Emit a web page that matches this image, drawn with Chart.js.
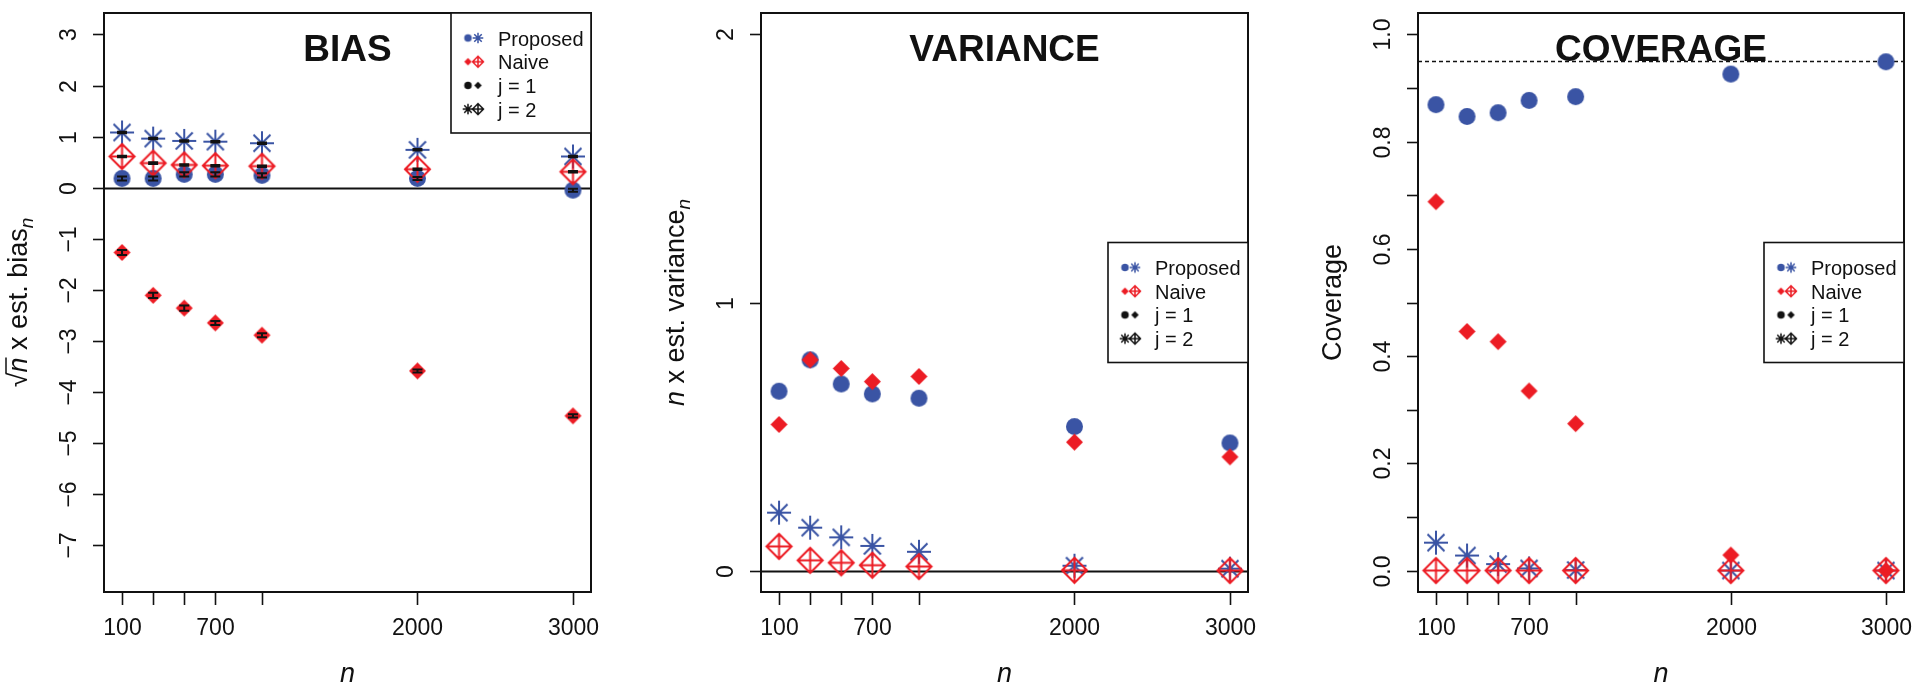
<!DOCTYPE html>
<html>
<head>
<meta charset="utf-8">
<script src="https://cdn.jsdelivr.net/npm/chart.js@4.4.1/dist/chart.umd.min.js"></script>
<style>
  html, body { margin: 0; padding: 0; background: #fff; }
  #wrap { position: relative; width: 1920px; height: 689px; overflow: hidden; }
  #wrap canvas { position: absolute; top: 0; }
</style>
</head>
<body>
<div id="wrap">
  <canvas id="bias" width="640" height="689" style="left:0"></canvas>
  <canvas id="variance" width="640" height="689" style="left:640px"></canvas>
  <canvas id="coverage" width="640" height="689" style="left:1280px"></canvas>
</div>
<script>
// ── Data ─────────────────────────────────────────────────

const nValues      = [100, 300, 500, 700, 1000, 2000, 3000];
const xTickLabels  = ['100', '', '', '700', '', '2000', '3000'];

const biasYTicks   = [-7, -6, -5, -4, -3, -2, -1, 0, 1, 2, 3];
const biasPropJ1   = [0.18, 0.18, 0.26, 0.26, 0.24, 0.18, -0.05];
const biasPropJ2   = [1.08, 0.96, 0.915, 0.90, 0.87, 0.74, 0.61];
const biasNaiveJ1  = [-1.27, -2.11, -2.36, -2.65, -2.89, -3.59, -4.47];
const biasNaiveJ2  = [0.61, 0.48, 0.445, 0.43, 0.42, 0.36, 0.31];
// half widths of the error bars
const biasPropJ1Err  = [0.04, 0.04, 0.04, 0.04, 0.04, 0.03, 0.03];
const biasPropJ2Err  = [0.015, 0.015, 0.015, 0.015, 0.015, 0.015, 0.015];
const biasNaiveJ1Err = [0.05, 0.05, 0.05, 0.04, 0.04, 0.03, 0.03];
const biasNaiveJ2Err = [0.015, 0.015, 0.015, 0.015, 0.015, 0.015, 0.015];

const varYTicks    = [0, 1, 2];
const varPropJ1    = [0.669, 0.786, 0.696, 0.659, 0.643, 0.537, 0.476];
const varPropJ2    = [0.216, 0.160, 0.124, 0.092, 0.070, 0.018, 0.007];
const varNaiveJ1   = [0.545, 0.786, 0.754, 0.705, 0.724, 0.479, 0.424];
const varNaiveJ2   = [0.090, 0.038, 0.029, 0.020, 0.015, 0.001, 0.0];

const covYTicks      = [0, 0.1, 0.2, 0.3, 0.4, 0.5, 0.6, 0.7, 0.8, 0.9, 1.0];
const covYTickLabels = ['0.0', '', '0.2', '', '0.4', '', '0.6', '', '0.8', '', '1.0'];
const covPropJ1    = [0.869, 0.847, 0.854, 0.877, 0.884, 0.926, 0.949];
const covPropJ2    = [0.052, 0.028, 0.012, 0.004, 0.001, 0.0, 0.0];
const covNaiveJ1   = [0.688, 0.446, 0.427, 0.335, 0.274, 0.029, 0.0];
const covNaiveJ2   = [0, 0, 0, 0, 0, 0, 0];
const coverageTarget = 0.95;

const legendNames  = ['Proposed', 'Naive', 'j = 1', 'j = 2'];

// ── Style ────────────────────────────────────────────────

const FONT  = '"Liberation Sans", Arial, Helvetica, sans-serif';
const BLUE  = '#3a54a4';
const RED   = '#ec1c24';
const BLACK = '#111';

function makeMarker(kind, color, r, lw) {
  const s = Math.ceil(2 * r + 2 * lw + 2);
  const c = document.createElement('canvas');
  c.width = s; c.height = s;
  const g = c.getContext('2d');
  const m = s / 2;
  g.strokeStyle = color; g.fillStyle = color; g.lineWidth = lw;
  g.beginPath();
  if (kind === 'dot') {
    g.arc(m, m, r, 0, Math.PI * 2);
    g.fill();
  } else if (kind === 'diamond') {
    g.moveTo(m - r, m); g.lineTo(m, m - r); g.lineTo(m + r, m); g.lineTo(m, m + r);
    g.closePath(); g.fill();
  } else if (kind === 'star') {
    const d = r * Math.SQRT1_2;
    g.moveTo(m - r, m); g.lineTo(m + r, m);
    g.moveTo(m, m - r); g.lineTo(m, m + r);
    g.moveTo(m - d, m - d); g.lineTo(m + d, m + d);
    g.moveTo(m - d, m + d); g.lineTo(m + d, m - d);
    g.stroke();
  } else if (kind === 'diamondPlus') {
    g.moveTo(m - r, m); g.lineTo(m, m - r); g.lineTo(m + r, m); g.lineTo(m, m + r);
    g.closePath();
    g.moveTo(m - r, m); g.lineTo(m + r, m);
    g.moveTo(m, m - r); g.lineTo(m, m + r);
    g.stroke();
  }
  return c;
}

const SIZES = { dot: 8.5, diamond: 8.5, star: 12, diamondPlus: 12.5 };
const plotMarker = (kind, color) => makeMarker(kind, color, SIZES[kind], 2);
const legMarker  = (kind, color) => makeMarker(kind, color, SIZES[kind] * 0.44, 1.5);

const legendRows = [
  [legMarker('dot', BLUE), legMarker('star', BLUE)],
  [legMarker('diamond', RED), legMarker('diamondPlus', RED)],
  [legMarker('dot', BLACK), legMarker('diamond', BLACK)],
  [legMarker('star', BLACK), legMarker('diamondPlus', BLACK)]
];

// ── Frame plugin (R-style box, ticks, labels, legend) ────

function drawParts(ctx, parts, x, y, rotate) {
  ctx.save();
  ctx.translate(x, y);
  if (rotate) ctx.rotate(-Math.PI / 2);
  let total = 0;
  parts.forEach(p => { ctx.font = p.font; p.w = ctx.measureText(p.text).width; total += p.w; });
  let cx = -total / 2;
  ctx.textAlign = 'left';
  ctx.textBaseline = 'alphabetic';
  parts.forEach(p => {
    ctx.font = p.font;
    ctx.fillText(p.text, cx, p.dy || 0);
    if (p.overline) {
      ctx.lineWidth = 1.5;
      ctx.beginPath(); ctx.moveTo(cx - 1, -p.overline); ctx.lineTo(cx + p.w, -p.overline); ctx.stroke();
    }
    cx += p.w;
  });
  ctx.restore();
}

function framePlugin(cfg) {
  return {
    id: 'frame_' + cfg.key,
    beforeDatasetsDraw(chart) {
      const { ctx, chartArea: a, scales: { y } } = chart;
      ctx.save();
      ctx.beginPath(); ctx.rect(a.left, a.top, a.right - a.left, a.bottom - a.top); ctx.clip();
      ctx.strokeStyle = BLACK;
      (cfg.hlines || []).forEach(h => {
        const py = Math.round(y.getPixelForValue(h.value)) + 0.5;
        ctx.lineWidth = h.width;
        ctx.setLineDash(h.dash || []);
        ctx.beginPath(); ctx.moveTo(a.left, py); ctx.lineTo(a.right, py); ctx.stroke();
      });
      ctx.restore();
    },
    afterDatasetsDraw(chart) {
      const { ctx, scales: { x, y } } = chart;
      ctx.save();
      ctx.strokeStyle = BLACK;
      ctx.lineWidth = 2;
      (cfg.errorBars || []).forEach(eb => {
        nValues.forEach((n, i) => {
          const px = x.getPixelForValue(n);
          const lo = y.getPixelForValue(eb.values[i] - eb.err[i]);
          const hi = y.getPixelForValue(eb.values[i] + eb.err[i]);
          ctx.beginPath();
          ctx.moveTo(px, lo); ctx.lineTo(px, hi);
          ctx.moveTo(px - 5, lo); ctx.lineTo(px + 5, lo);
          ctx.moveTo(px - 5, hi); ctx.lineTo(px + 5, hi);
          ctx.stroke();
        });
      });
      ctx.restore();
    },
    afterDraw(chart) {
      const { ctx, chartArea: a, scales: { x, y } } = chart;
      ctx.save();
      ctx.strokeStyle = BLACK;
      ctx.fillStyle = BLACK;

      // box
      ctx.lineWidth = 2;
      ctx.strokeRect(a.left, a.top, a.right - a.left, a.bottom - a.top);

      // x ticks + labels
      ctx.lineWidth = 1.6;
      ctx.font = '23px ' + FONT;
      ctx.textAlign = 'center';
      ctx.textBaseline = 'alphabetic';
      nValues.forEach((n, i) => {
        const px = Math.round(x.getPixelForValue(n)) + 0.5;
        ctx.beginPath(); ctx.moveTo(px, a.bottom); ctx.lineTo(px, a.bottom + 13); ctx.stroke();
        if (xTickLabels[i]) ctx.fillText(xTickLabels[i], px, a.bottom + 43);
      });

      // y ticks + rotated labels
      cfg.yTicks.forEach((v, i) => {
        const py = Math.round(y.getPixelForValue(v)) + 0.5;
        ctx.beginPath(); ctx.moveTo(a.left - 11, py); ctx.lineTo(a.left, py); ctx.stroke();
        const lab = cfg.yTickLabels[i];
        if (lab) {
          ctx.save();
          ctx.translate(a.left - 28, py);
          ctx.rotate(-Math.PI / 2);
          ctx.fillText(lab, 0, 0);
          ctx.restore();
        }
      });

      // axis titles
      const reg = '27px ' + FONT, ita = 'italic 27px ' + FONT, sub = 'italic 19px ' + FONT;
      drawParts(ctx, [{ text: 'n', font: ita }], (a.left + a.right) / 2, a.bottom + 90, false);
      drawParts(ctx, cfg.yTitle(reg, ita, sub), a.left - 77, (a.top + a.bottom) / 2, true);

      // panel title
      ctx.font = 'bold 37px ' + FONT;
      ctx.textAlign = 'center';
      ctx.fillText(cfg.title, (a.left + a.right) / 2, a.top + 48);

      // legend
      const lw = 140, lh = 120;
      const lx = a.right - lw;
      const ly = cfg.legendPos === 'topright' ? a.top : (a.top + a.bottom) / 2 - lh / 2;
      ctx.fillStyle = '#fff';
      ctx.fillRect(lx, ly, lw, lh);
      ctx.lineWidth = 1.6;
      ctx.strokeRect(lx, ly, lw, lh);
      ctx.font = '20px ' + FONT;
      ctx.textAlign = 'left';
      ctx.fillStyle = BLACK;
      legendNames.forEach((name, i) => {
        const ry = ly + 25 + i * 23.7;
        const [m1, m2] = legendRows[i];
        ctx.drawImage(m1, lx + 17 - m1.width / 2, ry - m1.height / 2);
        ctx.drawImage(m2, lx + 27 - m2.width / 2, ry - m2.height / 2);
        ctx.fillText(name, lx + 47, ry + 7.5);
      });
      ctx.restore();
    }
  };
}

// ── Charts ───────────────────────────────────────────────

function series(values, marker, order) {
  return {
    data: nValues.map((n, i) => ({ x: n, y: values[i] })),
    pointStyle: marker,
    pointRadius: 12,
    pointHoverRadius: 12,
    showLine: false,
    order: order,
    clip: false
  };
}

function makePanel(id, cfg) {
  return new Chart(document.getElementById(id), {
    type: 'scatter',
    data: {
      datasets: [
        series(cfg.propJ1, plotMarker('dot', BLUE), 3),
        series(cfg.propJ2, plotMarker('star', BLUE), 2),
        series(cfg.naiveJ1, plotMarker('diamond', RED), 1),
        series(cfg.naiveJ2, plotMarker('diamondPlus', RED), 0)
      ]
    },
    options: {
      responsive: false,
      animation: false,
      events: [],
      layout: { padding: cfg.pad },
      scales: {
        x: { type: 'linear', display: false, min: -16, max: 3116 },
        y: { type: 'linear', display: false, min: cfg.ymin, max: cfg.ymax }
      },
      plugins: { legend: { display: false }, tooltip: { enabled: false } }
    },
    plugins: [framePlugin(cfg)]
  });
}

makePanel('bias', {
  key: 'bias', title: 'BIAS', legendPos: 'topright',
  pad: { left: 104, right: 49, top: 6, bottom: 97 },
  ymin: -7.92, ymax: 3.42,
  yTicks: biasYTicks,
  yTickLabels: biasYTicks.map(v => String(v).replace('-', '\u2212')),
  propJ1: biasPropJ1, propJ2: biasPropJ2, naiveJ1: biasNaiveJ1, naiveJ2: biasNaiveJ2,
  hlines: [{ value: 0, width: 2 }],
  errorBars: [
    { values: biasPropJ1, err: biasPropJ1Err },
    { values: biasPropJ2, err: biasPropJ2Err },
    { values: biasNaiveJ1, err: biasNaiveJ1Err },
    { values: biasNaiveJ2, err: biasNaiveJ2Err }
  ],
  yTitle: (reg, ita, sub) => [
    { text: '\u221A', font: reg },
    { text: 'n', font: ita, overline: 21 },
    { text: ' x est. bias', font: reg },
    { text: 'n', font: sub, dy: 6 }
  ]
});

makePanel('variance', {
  key: 'variance', title: 'VARIANCE', legendPos: 'right',
  pad: { left: 121, right: 32, top: 6, bottom: 97 },
  ymin: -0.08, ymax: 2.08,
  yTicks: varYTicks,
  yTickLabels: varYTicks.map(String),
  propJ1: varPropJ1, propJ2: varPropJ2, naiveJ1: varNaiveJ1, naiveJ2: varNaiveJ2,
  hlines: [{ value: 0, width: 2 }],
  yTitle: (reg, ita, sub) => [
    { text: 'n', font: ita },
    { text: ' x est. variance', font: reg },
    { text: 'n', font: sub, dy: 6 }
  ]
});

makePanel('coverage', {
  key: 'coverage', title: 'COVERAGE', legendPos: 'right',
  pad: { left: 138, right: 16, top: 6, bottom: 97 },
  ymin: -0.04, ymax: 1.04,
  yTicks: covYTicks,
  yTickLabels: covYTickLabels,
  propJ1: covPropJ1, propJ2: covPropJ2, naiveJ1: covNaiveJ1, naiveJ2: covNaiveJ2,
  hlines: [{ value: coverageTarget, width: 1.5, dash: [4, 3] }],
  yTitle: (reg) => [{ text: 'Coverage', font: reg }]
});
</script>
</body>
</html>
